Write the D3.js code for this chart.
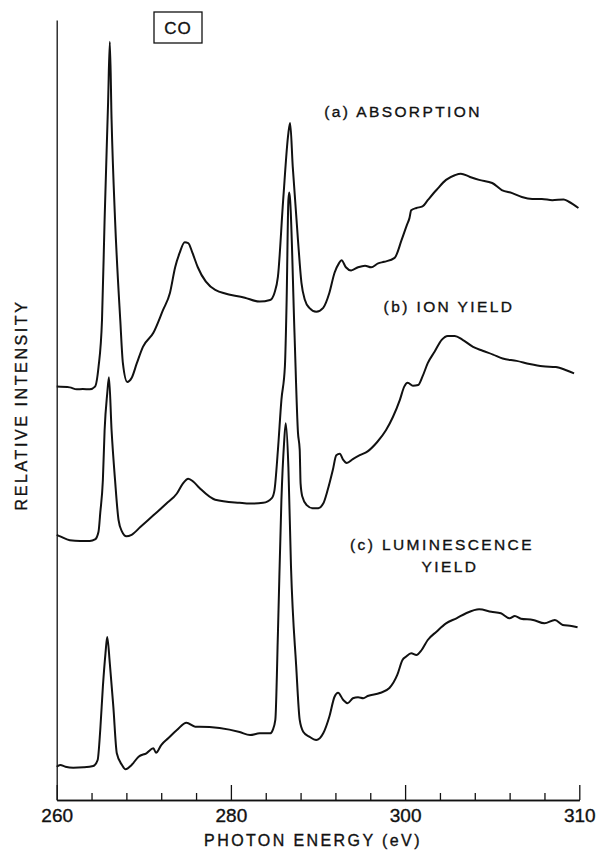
<!DOCTYPE html>
<html>
<head>
<meta charset="utf-8">
<title>CO spectra</title>
<script src="https://d3js.org/d3.v7.min.js"></script>
<style>
  body { margin: 0; background: #fff; }
  svg { display: block; }
  text { font-family: "Liberation Sans", Arial, sans-serif; fill: #111; stroke: #111; stroke-width: 0.35px; }
</style>
</head>
<body>
<script>
// photon energy (eV) and relative intensity (arbitrary units, traces offset)
var energyA = [260.0, 261.5, 262.3, 263.0, 263.8, 264.4, 264.8, 265.2, 265.5, 265.9, 266.1, 266.3, 266.7, 267.3, 267.6, 268.1, 268.6, 269.2, 269.9, 271.1, 272.2, 273.0, 273.6, 274.1, 274.7, 275.1, 275.6, 276.2, 278.2, 281.6, 283.3, 284.5, 285.0, 285.4, 286.0, 286.6, 286.8, 287.1, 287.7, 288.1, 288.5, 289.0, 289.8, 290.6, 291.3, 291.9, 292.4, 292.7, 293.2, 293.8, 294.6, 295.4, 296.1, 296.9, 297.6, 298.8, 299.6, 300.2, 300.5, 300.7, 301.3, 302.0, 302.6, 303.6, 304.7, 305.7, 306.4, 307.4, 308.5, 310.0, 311.1, 312.3, 313.4, 314.6, 315.7, 316.9, 318.2, 318.8, 319.9];
var intensityA = [53.0, 52.9, 52.65, 52.7, 52.65, 53.0, 55.5, 61.5, 74.4, 89.4, 97.2, 87.2, 74.4, 61.5, 56.0, 53.6, 54.1, 56.0, 58.1, 59.9, 62.8, 65.0, 68.3, 70.1, 71.5, 71.4, 70.1, 68.3, 65.4, 64.4, 63.9, 64.1, 65.0, 67.1, 76.9, 85.5, 86.8, 81.2, 71.8, 66.3, 64.1, 63.1, 62.6, 63.1, 65.0, 67.6, 68.8, 69.2, 68.3, 67.9, 68.3, 68.5, 68.3, 68.8, 69.0, 69.5, 71.8, 73.7, 74.6, 75.6, 75.9, 76.1, 76.9, 78.2, 79.5, 80.1, 80.3, 79.9, 79.5, 79.1, 78.2, 77.8, 77.3, 77.05, 77.05, 76.9, 77.0, 76.7, 75.9];

var energyB = [260.0, 260.4, 261.5, 262.7, 263.8, 264.4, 264.8, 265.0, 265.3, 265.5, 265.8, 266.0, 266.3, 266.7, 267.1, 267.5, 268.0, 268.6, 269.6, 271.1, 272.6, 273.8, 274.5, 275.1, 275.7, 276.4, 278.2, 281.0, 282.2, 283.7, 284.7, 285.0, 285.4, 285.8, 286.2, 286.4, 286.6, 286.7, 286.8, 287.3, 287.7, 287.9, 288.0, 288.2, 288.7, 289.4, 290.0, 290.6, 291.1, 291.7, 292.1, 292.5, 292.9, 293.3, 294.0, 294.8, 295.7, 296.8, 297.8, 298.6, 299.4, 299.9, 300.3, 300.9, 301.5, 302.0, 302.6, 303.4, 304.2, 304.9, 305.7, 306.6, 307.8, 308.9, 310.1, 311.2, 312.8, 314.3, 315.8, 317.3, 318.5, 319.4];
var intensityB = [34.0, 33.8, 33.3, 33.2, 33.2, 33.4, 34.4, 36.8, 41.0, 47.4, 52.1, 54.2, 47.4, 41.0, 35.9, 34.4, 33.8, 34.0, 35.0, 36.5, 38.0, 39.3, 40.6, 41.2, 40.8, 40.0, 38.5, 38.1, 38.0, 38.1, 38.7, 39.7, 44.9, 51.3, 55.6, 64.1, 76.9, 77.9, 76.9, 59.9, 47.1, 44.9, 40.6, 38.9, 37.8, 37.4, 37.4, 38.0, 39.7, 42.3, 44.2, 44.4, 43.6, 43.2, 43.7, 44.2, 44.7, 45.9, 47.4, 49.1, 51.3, 53.0, 53.5, 53.1, 53.2, 54.3, 56.0, 57.5, 59.0, 59.5, 59.5, 59.0, 58.1, 57.6, 57.1, 56.6, 56.3, 55.9, 55.6, 55.5, 55.1, 54.7];

var energyC = [260.0, 260.4, 261.0, 261.9, 263.1, 264.2, 264.7, 265.0, 265.3, 265.6, 265.8, 266.1, 266.5, 266.9, 267.5, 267.9, 268.6, 269.4, 270.3, 271.1, 271.4, 272.0, 272.8, 273.8, 274.9, 275.9, 276.4, 278.7, 281.0, 282.2, 283.3, 284.5, 284.8, 285.1, 285.4, 285.8, 286.1, 286.3, 286.6, 286.9, 287.5, 287.9, 288.3, 289.0, 289.8, 290.6, 291.3, 291.9, 292.3, 292.9, 293.4, 294.0, 294.6, 295.2, 295.7, 297.1, 298.2, 299.1, 299.7, 300.1, 300.7, 301.3, 301.9, 302.6, 303.6, 304.7, 305.9, 307.0, 308.5, 309.9, 311.0, 312.0, 312.6, 313.3, 314.7, 316.0, 317.2, 318.1, 319.1, 319.8];
var intensityC = [4.27, 4.49, 4.27, 4.14, 4.19, 4.36, 5.13, 8.97, 14.5, 18.8, 20.9, 17.5, 12.0, 6.0, 4.49, 3.94, 4.49, 5.55, 5.99, 6.63, 6.06, 7.05, 7.91, 8.97, 9.91, 9.4, 9.4, 9.23, 8.72, 8.33, 8.55, 8.55, 8.97, 10.26, 21.4, 38.5, 45.7, 48.3, 42.7, 29.9, 17.1, 10.26, 8.76, 8.12, 7.69, 8.55, 10.68, 13.24, 13.76, 12.82, 12.4, 13.04, 13.17, 13.04, 13.33, 13.72, 14.36, 16.03, 17.95, 18.37, 18.81, 18.59, 19.23, 20.51, 21.58, 22.65, 23.29, 23.94, 24.45, 24.14, 23.94, 23.29, 23.59, 23.24, 23.08, 22.65, 23.08, 22.44, 22.31, 22.14];

var seriesLabels = [["(a) ABSORPTION"], ["(b) ION YIELD"], ["(c) LUMINESCENCE", "YIELD"]];
var tickMajor = [260, 280, 300, 320];
var tickMajorLabels = ["260", "280", "300", "310"];
var tickMinor = d3.range(264, 320, 4).filter(function(d) { return tickMajor.indexOf(d) < 0; });

var width = 597, height = 852;

var svg = d3.select("body").append("svg")
    .attr("width", width)
    .attr("height", height);

var x = d3.scaleLinear().domain([260, 320]).range([56.7, 579.3]);
var y = d3.scaleLinear().domain([0, 100]).range([800, 20]);

// axes
var minorAxis = d3.axisBottom(x).tickValues(tickMinor).tickSize(-7).tickSizeOuter(0).tickFormat("");
var majorAxis = d3.axisBottom(x).tickValues(tickMajor).tickSize(-15).tickSizeOuter(0)
    .tickPadding(9)
    .tickFormat(function(d) { return tickMajorLabels[tickMajor.indexOf(d)]; });

svg.append("g").attr("transform", "translate(0," + y(0) + ")").call(minorAxis);
var gx = svg.append("g").attr("transform", "translate(0," + y(0) + ")").call(majorAxis);
gx.selectAll("text")
    .style("font-size", "19px")
    .style("font-family", "Liberation Sans, Arial, sans-serif")
    .attr("fill", "#111");
svg.selectAll(".domain, .tick line").attr("stroke", "#111").attr("stroke-width", 1.3);

svg.append("g").attr("transform", "translate(" + x(260) + ",0)")
    .call(d3.axisLeft(y).tickValues([]).tickSizeOuter(0))
    .select(".domain").attr("stroke", "#111").attr("stroke-width", 1.3);

// axis titles
svg.append("text")
    .attr("x", 313).attr("y", 846)
    .attr("text-anchor", "middle")
    .style("font-size", "16px")
    .style("letter-spacing", "2.4px")
    .text("PHOTON ENERGY (eV)");

svg.append("text")
    .attr("transform", "translate(27,405) rotate(-90)")
    .attr("text-anchor", "middle")
    .style("font-size", "16px")
    .style("letter-spacing", "2.6px")
    .text("RELATIVE INTENSITY");

// curves
var line = d3.line()
    .x(function(d) { return x(d[0]); })
    .y(function(d) { return y(d[1]); })
    .curve(d3.curveMonotoneX);

var traces = [d3.zip(energyA, intensityA), d3.zip(energyB, intensityB), d3.zip(energyC, intensityC)];

svg.selectAll("path.trace")
    .data(traces)
    .enter()
    .append("path")
    .attr("class", "trace")
    .attr("d", line)
    .attr("fill", "none")
    .attr("stroke", "#111")
    .attr("stroke-width", 2)
    .attr("stroke-linejoin", "round");

// trace labels
var labelPos = [[403, 117], [449, 312], [442, 550]];
seriesLabels.forEach(function(lines, i) {
    lines.forEach(function(t, j) {
        svg.append("text")
            .attr("x", labelPos[i][0] + (j ? 8 : 0))
            .attr("y", labelPos[i][1] + j * 22)
            .attr("text-anchor", "middle")
            .style("font-size", "15.5px")
            .style("letter-spacing", "2.4px")
            .text(t);
    });
});

// molecule box
svg.append("rect")
    .attr("x", 154).attr("y", 12)
    .attr("width", 48).attr("height", 31)
    .attr("fill", "none")
    .attr("stroke", "#111")
    .attr("stroke-width", 1.3);
svg.append("text")
    .attr("x", 178).attr("y", 34)
    .attr("text-anchor", "middle")
    .style("font-size", "17px")
    .style("letter-spacing", "1px")
    .text("CO");
</script>
</body>
</html>
